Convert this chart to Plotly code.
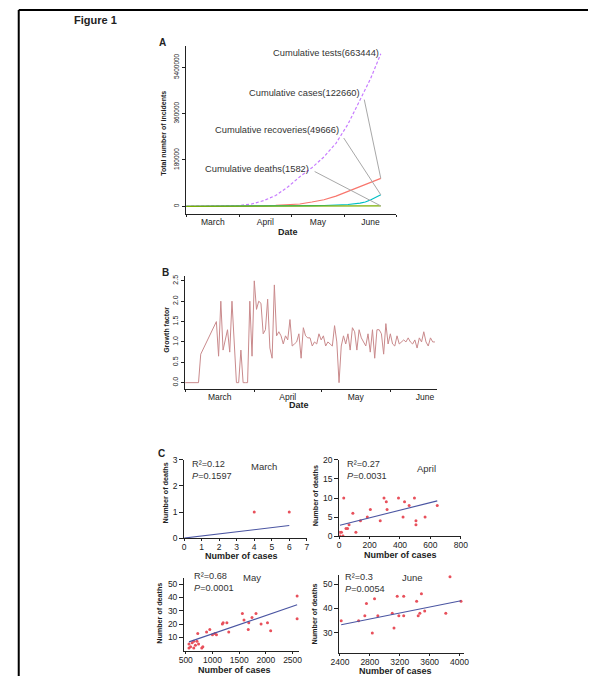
import plotly.graph_objects as go
import pandas as pd

W, H = 595, 681
FONT = "Liberation Sans, Arial, sans-serif"

# ---------------- Panel A data (cumulative counts) ----------------
a_day = [0, 14, 31, 38, 45, 52, 59, 66, 73, 80, 87, 94, 101, 104, 107, 113]  # days after 1 March 2020
a_tests = [0, 500, 3000, 9000, 22000, 42000, 75000, 115000, 150000, 192000, 245000,
           320000, 415000, 460000, 495000, 593000]
a_cases = [0, 30, 600, 1200, 2000, 3200, 5500, 9000, 16600, 25500, 39600, 57400,
           76600, 84300, 90600, 108500]
a_recov = [0, 0, 50, 200, 500, 900, 1500, 2000, 2500, 3000, 3800, 7000, 12500,
           16600, 24300, 44700]
a_deaths = [0, 0, 10, 30, 60, 100, 150, 220, 300, 420, 560, 750, 950, 1100, 1250, 1582]
a_labels = ["Cumulative tests(663444)", "Cumulative cases(122660)",
            "Cumulative recoveries(49666)", "Cumulative deaths(1582)"]
a_colors = ["#C77CFF", "#F8766D", "#00BFC4", "#7CAE00"]

# ---------------- Panel B data (daily growth factor from 1 March) ----------------
growth = [0, 0, 0, 0, 0, 0, 0, 0.7, None, None, None, None, None, None, 1.5,
          0.65, 2.0, 0.8, None, 1.3, 0.75, 2.0, None, 0.0, 0.0, 0.8, 0.0, 0.0, 0.0,
          2.0, 0.65, 2.5, 1.8, 2.0, 1.95, 1.2, 1.3, 2.05, 0.85, 0.6, 2.4,
          1.15, 1.25, 1.15, 0.95, 1.15, 1.05, 1.55, 0.9, 0.95, 1.0, 1.2, 0.6, 1.35,
          1.15, 1.1, 1.1, 0.9, 1.0, 0.95, 1.2, 1.05, 1.15, 0.9, 1.0, 0.95, 0.9, 1.4,
          1.0, 0.0, 0.9, 1.15, 0.95, 1.2, 0.8, 1.35, 1.25, 0.8, 1.3, 1.1, 1.0, 0.9,
          1.2, 0.75, 1.3, 0.6, 1.3, 1.3, 1.2, 0.7, 1.45, 0.95, 1.2, 0.95, 0.9, 1.15,
          0.95, 1.0, 1.05, 1.0, 1.1, 1.0, 0.95, 1.05, 0.85, 1.1, 1.0, 1.25, 1.0, 0.9,
          1.1, 1.0, 1.0]

# ---------------- Panel C data (cases vs deaths per month) ----------------
mar_cases = [4, 6]
mar_deaths = [1, 1]
apr_cases = [5, 5, 15, 25, 45, 30, 55, 65, 90, 110, 140, 185, 205, 270, 295, 310, 315,
             390, 420, 430, 460, 495, 505, 505, 565, 645]
apr_deaths = [0, 1, 1, 0, 2, 10, 2, 3, 6, 1, 4, 5, 7, 4, 10, 9, 7, 10, 5, 9, 8, 10, 4, 3, 5, 8]
may_cases = [560, 560, 590, 620, 650, 650, 680, 710, 725, 740, 800, 820, 890, 950, 1000,
             1045, 1075, 1185, 1200, 1270, 1305, 1560, 1590, 1670, 1680, 1740, 1815,
             1910, 2030, 2090, 2585, 2585]
may_deaths = [5, 2, 3, 6, 7, 2, 4, 7, 13, 5, 2, 3, 14, 16, 12, 13, 12, 20, 21, 21, 14,
              28, 23, 16, 21, 25, 28, 20, 21, 15, 41, 24]
jun_cases = [2417, 2650, 2733, 2755, 2833, 2863, 2907, 3100, 3123, 3166, 3188, 3253, 3253,
             3426, 3447, 3469, 3490, 3534, 3816, 3872, 4019]
jun_deaths = [35, 35, 37, 42, 30, 44, 37, 38, 32, 45, 37, 37, 45, 43, 37, 38, 46, 39, 38, 53, 43]
# fitted regression lines (slope, intercept) and summary statistics
fits = {"March": (0.08, 0.0), "April": (0.01, 2.8), "May": (0.01375, -1.09), "June": (0.00613, 18.5)}
r2_text = {"March": "0.12", "April": "0.27", "May": "0.68", "June": "0.3"}
p_text = {"March": "0.1597", "April": "0.0031", "May": "0.0001", "June": "0.0054"}

start = pd.Timestamp("2020-03-01")
a_dates = [start + pd.Timedelta(days=d) for d in a_day]
b_dates = pd.date_range(start, periods=len(growth), freq="D")

fig = go.Figure()

# ---- Panel A traces
series = [a_tests, a_cases, a_recov, a_deaths]
for vals, col, name in zip(series, a_colors, a_labels):
    fig.add_trace(go.Scatter(x=a_dates, y=vals, mode="lines", name=name,
                             line=dict(color=col, width=1.2,
                                       dash="3px,2px" if name.startswith("Cumulative tests") else "solid"),
                             xaxis="x", yaxis="y", showlegend=False))

# ---- Panel B trace
fig.add_trace(go.Scatter(x=b_dates, y=growth, mode="lines", connectgaps=True,
                         line=dict(color="#C98A8C", width=1.0), xaxis="x2", yaxis="y2",
                         showlegend=False))

# ---- Panel C traces
panels = [("March", mar_cases, mar_deaths, "x3", "y3"),
          ("April", apr_cases, apr_deaths, "x4", "y4"),
          ("May", may_cases, may_deaths, "x5", "y5"),
          ("June", jun_cases, jun_deaths, "x6", "y6")]
for name, cx, cy, xa, ya in panels:
    fig.add_trace(go.Scatter(x=cx, y=cy, mode="markers", marker=dict(color="#E8505B", size=3),
                             xaxis=xa, yaxis=ya, showlegend=False))
    s, b = fits[name]
    xs = [0 if name == "March" else min(cx), max(cx)]
    fig.add_trace(go.Scatter(x=xs, y=[s * v + b for v in xs], mode="lines",
                             line=dict(color="#4A55A2", width=1.1),
                             xaxis=xa, yaxis=ya, showlegend=False))


def dom_x(p0, p1):
    return [p0 / W, p1 / W]


def dom_y(top, bottom):
    return [1 - bottom / H, 1 - top / H]


axcommon = dict(showline=True, linecolor="#222", linewidth=1.2, ticks="outside",
                tickcolor="#222", ticklen=3, showgrid=False, zeroline=False,
                tickfont=dict(family=FONT, size=8.5, color="#222"))

layout = dict(width=W, height=H, margin=dict(l=0, r=0, t=0, b=0),
              paper_bgcolor="white", plot_bgcolor="white", showlegend=False)

# Panel A axes
layout["xaxis"] = dict(axcommon, domain=dom_x(182, 398), anchor="y", type="date",
                       range=["2020-03-01", "2020-07-01"], dtick="M1", tick0="2020-03-01",
                       tickformat="%B", ticklabelmode="period", ticklen=2,
                       ticklabelstandoff=-2)
layout["yaxis"] = dict(axcommon, domain=dom_y(42, 212), anchor="x", range=[-29500, 621600],
                       tickvals=[0, 180000, 360000, 540000],
                       ticktext=["0", "180000", "360000", "5400000"], tickangle=-90,
                       tickfont=dict(family=FONT, size=6.5, color="#222"))
# Panel B axes
layout["xaxis2"] = dict(axcommon, domain=dom_x(181, 440), anchor="y2", type="date",
                        range=["2020-03-01", "2020-06-22"], dtick="M1", tick0="2020-03-01",
                        tickformat="%B", ticklabelmode="period", ticklen=2,
                        ticklabelstandoff=-3)
layout["yaxis2"] = dict(axcommon, domain=dom_y(275, 390), anchor="x2", range=[-0.162, 2.62],
                        tickvals=[0, 0.5, 1.0, 1.5, 2.0, 2.5],
                        ticktext=["0.0", "0.5", "1.0", "1.5", "2.0", "2.5"], tickangle=-90,
                        tickfont=dict(family=FONT, size=7, color="#222"))

cfont = dict(family=FONT, size=8.5, color="#222")
ccommon = dict(axcommon, ticklen=4, tickfont=cfont)
cx_common = dict(ccommon, ticklen=2, ticklabelstandoff=-1)
layout["xaxis3"] = dict(cx_common, domain=dom_x(180, 306), anchor="y3", range=[0, 7],
                        tickvals=list(range(8)))
layout["yaxis3"] = dict(ccommon, domain=dom_y(461.7, 541), anchor="x3", range=[0, 3],
                        tickvals=[0, 1, 2, 3])
layout["xaxis4"] = dict(cx_common, domain=dom_x(339.3, 464.3), anchor="y4", range=[0, 800],
                        tickvals=[0, 200, 400, 600, 800])
layout["yaxis4"] = dict(ccommon, domain=dom_y(461.7, 539), anchor="x4", range=[0, 20],
                        tickvals=[0, 5, 10, 15, 20])
layout["xaxis5"] = dict(cx_common, domain=dom_x(180, 298), anchor="y5", range=[470, 2620],
                        tickvals=[500, 1000, 1500, 2000, 2500])
layout["yaxis5"] = dict(ccommon, domain=dom_y(581.7, 655.3), anchor="x5", range=[0, 54.5],
                        tickvals=[10, 20, 30, 40, 50])
layout["xaxis6"] = dict(cx_common, domain=dom_x(339.3, 468), anchor="y6", range=[2390, 4065],
                        tickvals=[2400, 2800, 3200, 3600, 4000])
layout["yaxis6"] = dict(ccommon, domain=dom_y(578.3, 657.3), anchor="x6", range=[21.9, 53.8],
                        tickvals=[30, 40, 50])

ann = []


def T(text, x, y, size=8, bold=False, angle=0, xanchor="center", color="#222", align="center"):
    if bold:
        text = f"<b>{text}</b>"
    ann.append(dict(text=text, x=x / W, y=1 - y / H, xref="paper", yref="paper",
                    showarrow=False, textangle=angle, xanchor=xanchor, yanchor="middle",
                    align=align, font=dict(family=FONT, size=size, color=color)))


T("Figure 1", 65, 15, size=11, bold=True, xanchor="left")
# Panel A texts
T("A", 158, 38, size=10, bold=True)
T("Total number of incidents", 158, 130, size=7, bold=True, angle=-90)
T("Date", 287, 230, size=9, bold=True)
# Panel B texts
T("B", 161, 271, size=10, bold=True)
T("Growth factor", 161, 330, size=7, bold=True, angle=-90)
T("Date", 298, 406, size=9, bold=True)
# Panel C texts
T("C", 157, 455, size=10, bold=True)
c_pos = {"March": dict(yt=(161, 495), xt=(239, 559), r=(186, 472), m=(262, 468)),
         "April": dict(yt=(315, 498), xt=(402, 558), r=(345, 472), m=(429, 470)),
         "May": dict(yt=(155, 617), xt=(232, 674.5), r=(188, 586), m=(250, 581)),
         "June": dict(yt=(314, 618), xt=(397, 675.5), r=(343, 587), m=(415, 581))}
for name, p in c_pos.items():
    T("Number of deaths", *p["yt"], size=7.2, bold=True, angle=-90)
    T("Number of cases", *p["xt"], size=9, bold=True)
    T(f"R²={r2_text[name]}<br><i>P</i>={p_text[name]}", *p["r"], size=9.2,
      xanchor="left", color="#333", align="left")
    T(name, *p["m"], size=9.5, color="#333")

# Panel A labels and connector segments (label anchor day/value, segment start day/value)
a_lab_pos = [(113, 596000, None), (102.3, 440400, (103.4, 414800)),
             (89.7, 294900, (91.5, 265400)), (72.3, 144000, (74.6, 135200))]
shapes = []
for (ld, lv, seg), vals, text in zip(a_lab_pos, series, a_labels):
    ann.append(dict(text=text, x=start + pd.Timedelta(days=ld), y=lv, xref="x", yref="y",
                    showarrow=False, xanchor="right", yanchor="middle",
                    font=dict(family=FONT, size=9.3, color="#333")))
    if seg is not None:
        shapes.append(dict(type="line", xref="x", yref="y",
                           x0=start + pd.Timedelta(days=seg[0]), y0=seg[1],
                           x1=a_dates[-1], y1=vals[-1], line=dict(color="#A8A8A8", width=1)))

# page border (left and top)
shapes.append(dict(type="line", xref="paper", yref="paper", x0=10 / W, x1=10 / W,
                   y0=0, y1=1 - 5 / H, line=dict(color="black", width=2)))
shapes.append(dict(type="line", xref="paper", yref="paper", x0=10 / W, x1=1,
                   y0=1 - 5 / H, y1=1 - 5 / H, line=dict(color="black", width=2)))

layout["annotations"] = ann
layout["shapes"] = shapes
fig.update_layout(**layout)
fig.write_html("out.html", config={"displayModeBar": False},
               post_script="document.body.style.margin='0px';")
